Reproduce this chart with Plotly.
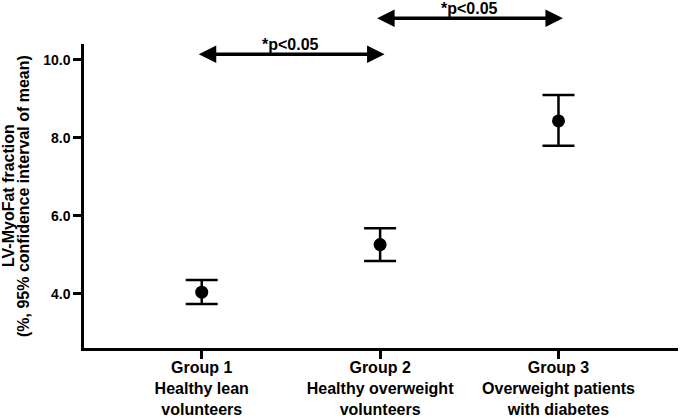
import plotly.graph_objects as go

# Data
groups = [1, 2, 3]
group_labels = [
    "Group 1<br>Healthy lean<br>volunteers",
    "Group 2<br>Healthy overweight<br>volunteers",
    "Group 3<br>Overweight patients<br>with diabetes",
]
means = [4.04, 5.26, 8.43]
upper = [4.35, 5.68, 9.09]
lower = [3.74, 4.84, 7.79]
y_ticks = [4.0, 6.0, 8.0, 10.0]
y_title_lines = ["LV-MyoFat fraction", "(%, 95% confidence interval of mean)"]

comparisons = [  # (from group, to group, bracket level in y units, label)
    (1, 2, 10.14, "*p<0.05"),
    (2, 3, 11.06, "*p<0.05"),
]

FONT = "Liberation Sans, Arial, sans-serif"
Y_RANGE = [2.61, 10.4]


def to_domain(v):
    return (v - Y_RANGE[0]) / (Y_RANGE[1] - Y_RANGE[0])


err_plus = [u - m for u, m in zip(upper, means)]
err_minus = [m - l for m, l in zip(means, lower)]

fig = go.Figure()
fig.add_trace(go.Scatter(
    x=groups, y=means, mode="markers",
    marker=dict(color="black", size=13),
    error_y=dict(type="data", symmetric=False, array=err_plus, arrayminus=err_minus,
                 color="black", thickness=2.5, width=16),
    showlegend=False, hoverinfo="skip", cliponaxis=False,
))

for g0, g1, lvl, lab in comparisons:
    yd = to_domain(lvl)
    fig.add_annotation(
        x=g1 + 0.025, y=yd, ax=g0 - 0.025, ay=yd,
        xref="x", yref="y domain", axref="x", ayref="y domain",
        text="", showarrow=True, arrowhead=2, arrowside="end+start",
        arrowwidth=3.5, arrowsize=1.0, arrowcolor="black",
    )
    fig.add_annotation(
        x=(g0 + g1) / 2, y=yd, xref="x", yref="y domain", text=lab, showarrow=False,
        yanchor="bottom", yshift=-1,
        font=dict(family=FONT, size=16, color="black", weight="bold"),
    )

# two-line rotated y-axis title
for line, shift in zip(y_title_lines, [-76, -61]):
    fig.add_annotation(
        x=0, y=0.5, xref="paper", yref="paper", text=line, showarrow=False,
        textangle=-90, xanchor="center", yanchor="middle", xshift=shift,
        font=dict(family=FONT, size=16, color="black", weight="bold"),
    )

fig.update_layout(
    width=685, height=419,
    margin=dict(l=84, r=7, t=44, b=71),
    paper_bgcolor="white", plot_bgcolor="white",
    font=dict(family=FONT, size=16, color="black", weight="bold"),
    showlegend=False,
    hovermode=False,
    xaxis=dict(
        range=[0.34, 3.67], tickmode="array", tickvals=groups, ticktext=group_labels,
        showline=True, linecolor="black", linewidth=2.5, showgrid=False, zeroline=False,
        ticks="outside", ticklen=8, tickwidth=2.5, tickcolor="black", automargin=False,
        ticklabelstandoff=-5,
        tickfont=dict(family=FONT, size=16, color="black", weight="bold"),
    ),
    yaxis=dict(
        range=Y_RANGE, tickmode="array", tickvals=y_ticks,
        ticktext=[f"{v:.1f}" for v in y_ticks],
        showline=True, linecolor="black", linewidth=2.5, showgrid=False, zeroline=False,
        ticks="outside", ticklen=8, tickwidth=2.5, tickcolor="black", automargin=False,
        tickfont=dict(family=FONT, size=14, color="black", weight="bold"),
    ),
)

fig.write_html("out.html", config={"displayModeBar": False},
               post_script="document.body.style.margin='0';")
